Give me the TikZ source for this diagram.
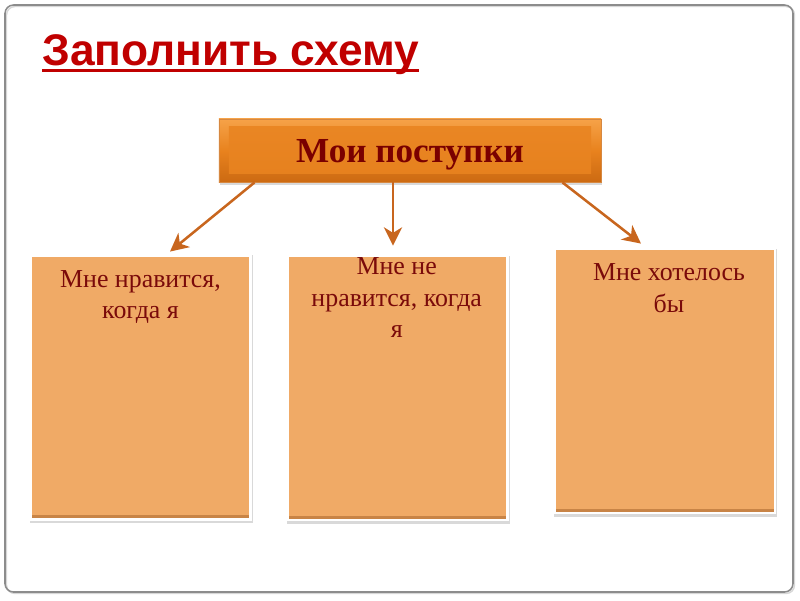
\documentclass[tikz,border=0pt]{standalone}
\usepackage{fontspec}
\setmainfont{Liberation Serif}
\newfontfamily\titlefont{Liberation Sans}
\usetikzlibrary{arrows.meta,shadows,positioning,calc}

\definecolor{framegray}{HTML}{8C8C8C}
\definecolor{titlered}{HTML}{C00000}
\definecolor{topbright}{HTML}{F6A248}
\definecolor{toporange}{HTML}{E8821E}
\definecolor{topdark}{HTML}{CC6A12}
\definecolor{toptext}{HTML}{7A0000}
\definecolor{boxfill}{HTML}{F0AA66}
\definecolor{boxedge}{HTML}{C88446}
\definecolor{boxtext}{HTML}{7A0A0A}
\definecolor{arrowbrown}{HTML}{C8661E}

\tikzset{
  scheme slide/.style = {
    x = 0.025cm, y = -0.025cm,
    % Заголовок
    titletext/.style = {
      font=\titlefont\bfseries\fontsize{31.5}{36}\selectfont,
      text=titlered, inner sep=0pt, anchor=base west
    },
    % Верхний блок
    topbox/.style = {
      minimum width=9.55cm, minimum height=1.575cm,
      top color=topbright, bottom color=topdark, middle color=toporange,
      draw=topdark!80, line width=0.6pt, text depth=0pt,
      drop shadow={shadow xshift=1pt, shadow yshift=-2pt, opacity=0.3},
      font=\bfseries\fontsize{25}{29}\selectfont, text=toptext,
      path picture={
        \shade[top color=toporange!85!topbright, bottom color=toporange!92!topdark]
          ([shift={(7pt,-5pt)}]path picture bounding box.north west) rectangle
          ([shift={(-7pt,6pt)}]path picture bounding box.south east);
      }
    },
    % Ячейки
    sn/.style = {
      minimum width=5.5cm, minimum height=6.6cm,
      fill=boxfill, draw=white, line width=2pt,
      drop shadow={shadow xshift=0.4pt, shadow yshift=-1.2pt,
        shadow scale=1.014, opacity=0.3},
      path picture={
        \fill[boxedge] (path picture bounding box.south west) rectangle
          ([yshift=3pt]path picture bounding box.south east);
      }
    },
    sntext/.style = {
      font=\fontsize{18.4}{22.2}\selectfont,
      text=boxtext, align=center, inner sep=0pt
    },
    % Стрелки
    connect line/.style = {line width=1.8pt, draw=arrowbrown,
      -{Stealth[length=13pt,width=13pt,inset=4pt]}},
  }
}

\begin{document}
\begin{tikzpicture}[scheme slide]
\useasboundingbox (0,0) rectangle (800,600);
% рамка слайда
\draw[framegray!35, line width=1pt, rounded corners=6pt] (6.5,6.5) rectangle (794.5,593.5);
\draw[framegray, line width=1.1pt, rounded corners=6pt] (5,5) rectangle (793,592);

\node[titletext] (title) at (42,65) {Заполнить схему};
\draw[titlered, line width=2.1pt]
  ([shift={(0,5.5)}]title.base west) -- ([shift={(0,5.5)}]title.base east);

\node[topbox] (postupki) at (410,150.5) {Мои поступки};

\node[sn] (nravitsya)   at (140.5,387.5) {};
\node[sn] (nenravitsya) at (397.5,388) {};
\node[sn] (hotelos)     at (665,381) {};

\node[sntext, below=0.41cm of nravitsya.north] (t-nravitsya)
  {Мне нравится,\\когда я};
\node[sntext, below=0.08cm of nenravitsya.north, xshift=-0.02cm] (t-nenravitsya)
  {Мне не\\нравится, когда\\я};
\node[sntext, below=0.4cm of hotelos.north, xshift=0.1cm] (t-hotelos)
  {Мне хотелось\\бы};

\draw[connect line] ([shift={(36,0)}]postupki.south west)
  -- ([shift={(29.5,-2.5)}]nravitsya.north);
\draw[connect line] ([shift={(-17,0)}]postupki.south)
  -- ([shift={(-4.5,-9)}]nenravitsya.north);
\draw[connect line] ([shift={(-39,0)}]postupki.south east)
  -- ([shift={(-24,-4)}]hotelos.north);

\end{tikzpicture}
\end{document}
